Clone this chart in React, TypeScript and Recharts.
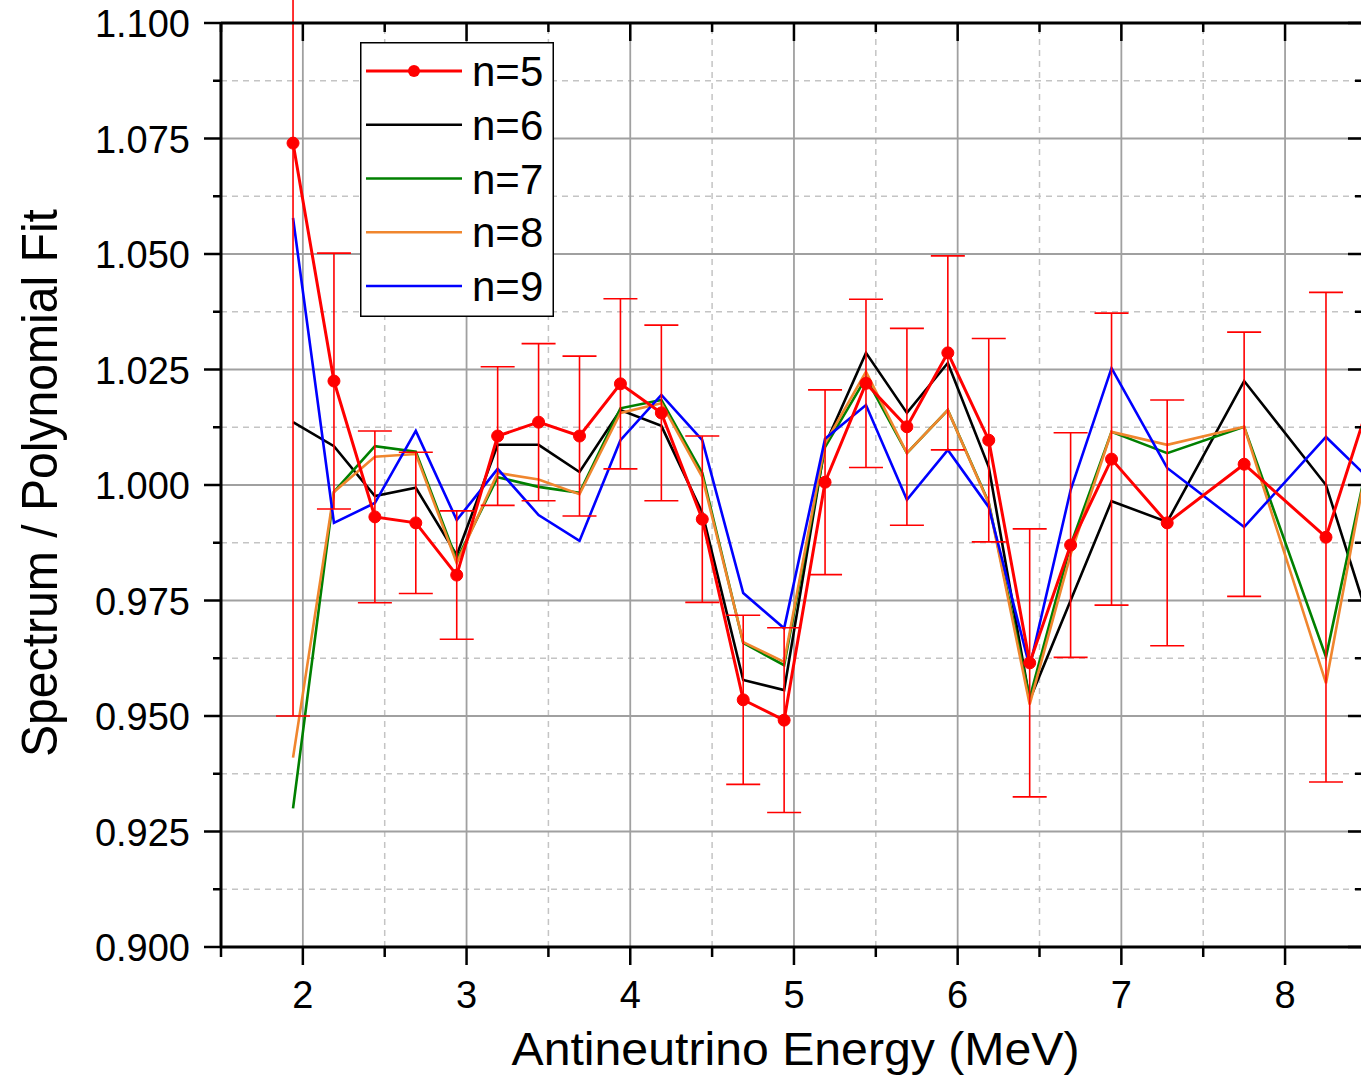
import React from 'react';
import { LineChart, Line, XAxis, YAxis, ReferenceLine, ErrorBar, Legend } from 'recharts';

// ---- data ----
const energy = [1.94, 2.19, 2.44, 2.69, 2.94, 3.19, 3.44, 3.69, 3.94, 4.19, 4.44, 4.69, 4.94, 5.19, 5.44, 5.69, 5.94, 6.19, 6.44, 6.69, 6.94, 7.28, 7.75, 8.25, 8.75];
const n5 = [1.074, 1.0225, 0.9931, 0.9918, 0.9805, 1.0106, 1.0136, 1.0106, 1.0219, 1.0156, 0.9926, 0.9535, 0.9491, 1.0006, 1.022, 1.0126, 1.0286, 1.0097, 0.9615, 0.987, 1.0056, 0.9918, 1.0045, 0.9887, 1.044];
const n5Err = [0.124, 0.0277, 0.0186, 0.0153, 0.0139, 0.015, 0.017, 0.0173, 0.0184, 0.019, 0.018, 0.0183, 0.02, 0.02, 0.0182, 0.0213, 0.021, 0.022, 0.029, 0.0243, 0.0316, 0.0266, 0.0286, 0.053, 0.03];
const n6 = [1.0136, 1.0084, 0.9976, 0.9994, 0.9848, 1.0087, 1.0087, 1.0028, 1.0162, 1.0128, 0.994, 0.9578, 0.9556, 1.0087, 1.0286, 1.0156, 1.0264, 1.0039, 0.9535, 0.975, 0.9965, 0.992, 1.0225, 1.0, 0.944];
const n7 = [0.93, 0.9985, 1.0084, 1.0072, 0.9838, 1.0017, 0.9996, 0.9983, 1.0166, 1.0184, 1.0026, 0.9658, 0.961, 1.0082, 1.0232, 1.0069, 1.0162, 0.9962, 0.9539, 0.987, 1.0115, 1.0069, 1.0126, 0.9628, 1.046];
const n8 = [0.941, 0.9985, 1.0061, 1.0067, 0.9831, 1.0026, 1.0012, 0.998, 1.0156, 1.0177, 1.0017, 0.966, 0.9617, 1.009, 1.0245, 1.0069, 1.0162, 0.996, 0.9525, 0.985, 1.0115, 1.0087, 1.0126, 0.9571, 1.052];
const n9 = [1.0578, 0.9918, 0.9961, 1.0117, 0.9924, 1.0035, 0.9935, 0.9879, 1.0097, 1.0195, 1.0097, 0.9766, 0.969, 1.01, 1.0173, 0.9968, 1.0076, 0.9952, 0.9606, 0.9989, 1.0253, 1.0037, 0.9909, 1.0104, 0.9932];

const xMajor = [2, 3, 4, 5, 6, 7, 8];
const xMinor = [1.5, 2.5, 3.5, 4.5, 5.5, 6.5, 7.5];
const yMajor = [0.9, 0.925, 0.95, 0.975, 1.0, 1.025, 1.05, 1.075, 1.1];
const yMinor = [0.9125, 0.9375, 0.9625, 0.9875, 1.0125, 1.0375, 1.0625, 1.0875];
const xDomain = [1.5, 8.47];
const yDomain = [0.9, 1.1];

const seriesInfo = [
  { key: 'n5', label: 'n=5', color: '#ff0000', dot: true },
  { key: 'n6', label: 'n=6', color: '#000000', dot: false },
  { key: 'n7', label: 'n=7', color: '#008000', dot: false },
  { key: 'n8', label: 'n=8', color: '#f0862e', dot: false },
  { key: 'n9', label: 'n=9', color: '#0000ff', dot: false },
];

const rows = energy.map((e, i) => ({ e, n5: n5[i], err: n5Err[i], n6: n6[i], n7: n7[i], n8: n8[i], n9: n9[i] }));

const FONT = "'Liberation Sans', Arial, Helvetica, sans-serif";
const isIn = (arr: number[], v: number) => arr.some((m) => Math.abs(m - v) < 1e-9);
const xTicks = [...xMajor, ...xMinor].sort((a, b) => a - b);
const yTicks = [...yMajor, ...yMinor].sort((a, b) => a - b);

const BottomTick = (props: any) => {
  const { x, y, payload } = props;
  const major = isIn(xMajor, payload.value);
  return (
    <g>
      <line x1={x} x2={x} y1={y} y2={y + (major ? 18 : 10)} stroke="#000" strokeWidth={2.5} />
      {major && (
        <text x={x} y={y + 61} textAnchor="middle" fontSize={38} fontFamily={FONT} fill="#000">
          {payload.value}
        </text>
      )}
    </g>
  );
};
const TopTick = (props: any) => {
  const { x, y, payload } = props;
  const major = isIn(xMajor, payload.value);
  return <line x1={x} x2={x} y1={y} y2={y + (major ? 18 : 9)} stroke="#000" strokeWidth={2.5} />;
};
const LeftTick = (props: any) => {
  const { x, y, payload } = props;
  const major = isIn(yMajor, payload.value);
  return (
    <g>
      <line x1={x - (major ? 17 : 8)} x2={x} y1={y} y2={y} stroke="#000" strokeWidth={2.5} />
      {major && (
        <text x={x - 31} y={y + 14} textAnchor="end" fontSize={38} fontFamily={FONT} fill="#000">
          {Number(payload.value).toFixed(3)}
        </text>
      )}
    </g>
  );
};
const RightTick = (props: any) => {
  const { x, y, payload } = props;
  const major = isIn(yMajor, payload.value);
  return <line x1={x - (major ? 14 : 7)} x2={x} y1={y} y2={y} stroke="#000" strokeWidth={2.5} />;
};

const XTitle = (p: any) => {
  const vb = p.viewBox;
  return (
    <text x={vb.x + vb.width / 2 + 4} y={vb.y + 118} textAnchor="middle" fontSize={46} fontFamily={FONT} fill="#000" textLength={568} lengthAdjust="spacingAndGlyphs">
      Antineutrino Energy (MeV)
    </text>
  );
};
const YTitle = (p: any) => {
  const vb = p.viewBox;
  const cx = 57;
  const cy = vb.y + vb.height / 2 - 2;
  return (
    <text x={cx} y={cy} transform={`rotate(-90, ${cx}, ${cy})`} textAnchor="middle" fontSize={50} fontFamily={FONT} fill="#000" textLength={548} lengthAdjust="spacingAndGlyphs">
      Spectrum / Polynomial Fit
    </text>
  );
};

const renderLegend = () => (
  <svg width={194} height={275} style={{ display: 'block' }}>
    <rect x={0.75} y={0.75} width={192.5} height={273.5} fill="#fff" stroke="#000" strokeWidth={1.5} />
    {seriesInfo.map((s, i) => {
      const cy = 29 + i * 53.75;
      return (
        <g key={s.key}>
          <line x1={6} x2={102} y1={cy} y2={cy} stroke={s.color} strokeWidth={s.dot ? 2.8 : 2.4} />
          {s.dot && <circle cx={54} cy={cy} r={6} fill={s.color} />}
          <text x={112} y={cy + 15} fontSize={42} fontFamily={FONT} fill="#000">
            {s.label}
          </text>
        </g>
      );
    })}
  </svg>
);

export default function App() {
  const order = ['n6', 'n7', 'n8', 'n9'];
  return (
    <div style={{ width: 1363, height: 1075 }}>
      <style>{`body{margin:0;overflow:hidden;background:#fff;}`}</style>
      <LineChart width={1363} height={1075} data={rows} margin={{ top: 22, right: 0, bottom: 0, left: 0 }}>
        <XAxis
          dataKey="e"
          type="number"
          domain={xDomain}
          allowDataOverflow
          ticks={xTicks}
          interval={0}
          height={128}
          tickSize={0}
          tickMargin={0}
          tickLine={false}
          tick={<BottomTick />}
          axisLine={{ stroke: '#000', strokeWidth: 3 }}
          label={{ content: XTitle } as any}
        />
        <XAxis
          xAxisId="top"
          orientation="top"
          dataKey="e"
          type="number"
          domain={xDomain}
          allowDataOverflow
          ticks={xTicks}
          interval={0}
          height={1}
          tickSize={0}
          tickMargin={0}
          tickLine={false}
          tick={<TopTick />}
          axisLine={{ stroke: '#000', strokeWidth: 3 }}
        />
        <YAxis
          type="number"
          domain={yDomain}
          allowDataOverflow
          ticks={yTicks}
          interval={0}
          width={221}
          tickSize={0}
          tickMargin={0}
          tickLine={false}
          tick={<LeftTick />}
          axisLine={{ stroke: '#000', strokeWidth: 3 }}
          label={{ content: YTitle } as any}
        />
        <YAxis
          yAxisId="right"
          orientation="right"
          type="number"
          domain={yDomain}
          allowDataOverflow
          ticks={yTicks}
          interval={0}
          width={1}
          tickSize={0}
          tickMargin={0}
          tickLine={false}
          tick={<RightTick />}
          axisLine={false}
        />
        {yMinor.map((v) => (
          <ReferenceLine key={`ym${v}`} y={v} stroke="#c4c4c4" strokeWidth={1.5} strokeDasharray="6 5" />
        ))}
        {xMinor.slice(1).map((v) => (
          <ReferenceLine key={`xm${v}`} x={v} stroke="#c4c4c4" strokeWidth={1.5} strokeDasharray="6 5" />
        ))}
        {yMajor.slice(1, -1).map((v) => (
          <ReferenceLine key={`yM${v}`} y={v} stroke="#a0a0a0" strokeWidth={1.8} />
        ))}
        {xMajor.map((v) => (
          <ReferenceLine key={`xM${v}`} x={v} stroke="#a0a0a0" strokeWidth={1.8} />
        ))}
        {/* invisible carrier series so the top and right frame axes are drawn */}
        <Line xAxisId="top" yAxisId="right" dataKey="n6" stroke="none" dot={false} activeDot={false} legendType="none" isAnimationActive={false} />
        {order.map((k) => {
          const s = seriesInfo.find((q) => q.key === k)!;
          return (
            <Line key={k} dataKey={k} type="linear" stroke={s.color} strokeWidth={2.6} dot={false} activeDot={false} isAnimationActive={false} />
          );
        })}
        <Line
          dataKey="n5"
          type="linear"
          stroke="#ff0000"
          strokeWidth={3}
          dot={{ r: 6, fill: '#ff0000', stroke: '#ff0000', strokeWidth: 1 }}
          activeDot={false}
          isAnimationActive={false}
        >
          <ErrorBar dataKey="err" direction="y" width={17} stroke="#ff0000" strokeWidth={1.6} />
        </Line>
        <Legend
          layout="vertical"
          align="center"
          verticalAlign="middle"
          content={renderLegend}
          wrapperStyle={{ left: 360, top: 42, width: 194, height: 275 }}
        />
      </LineChart>
    </div>
  );
}
